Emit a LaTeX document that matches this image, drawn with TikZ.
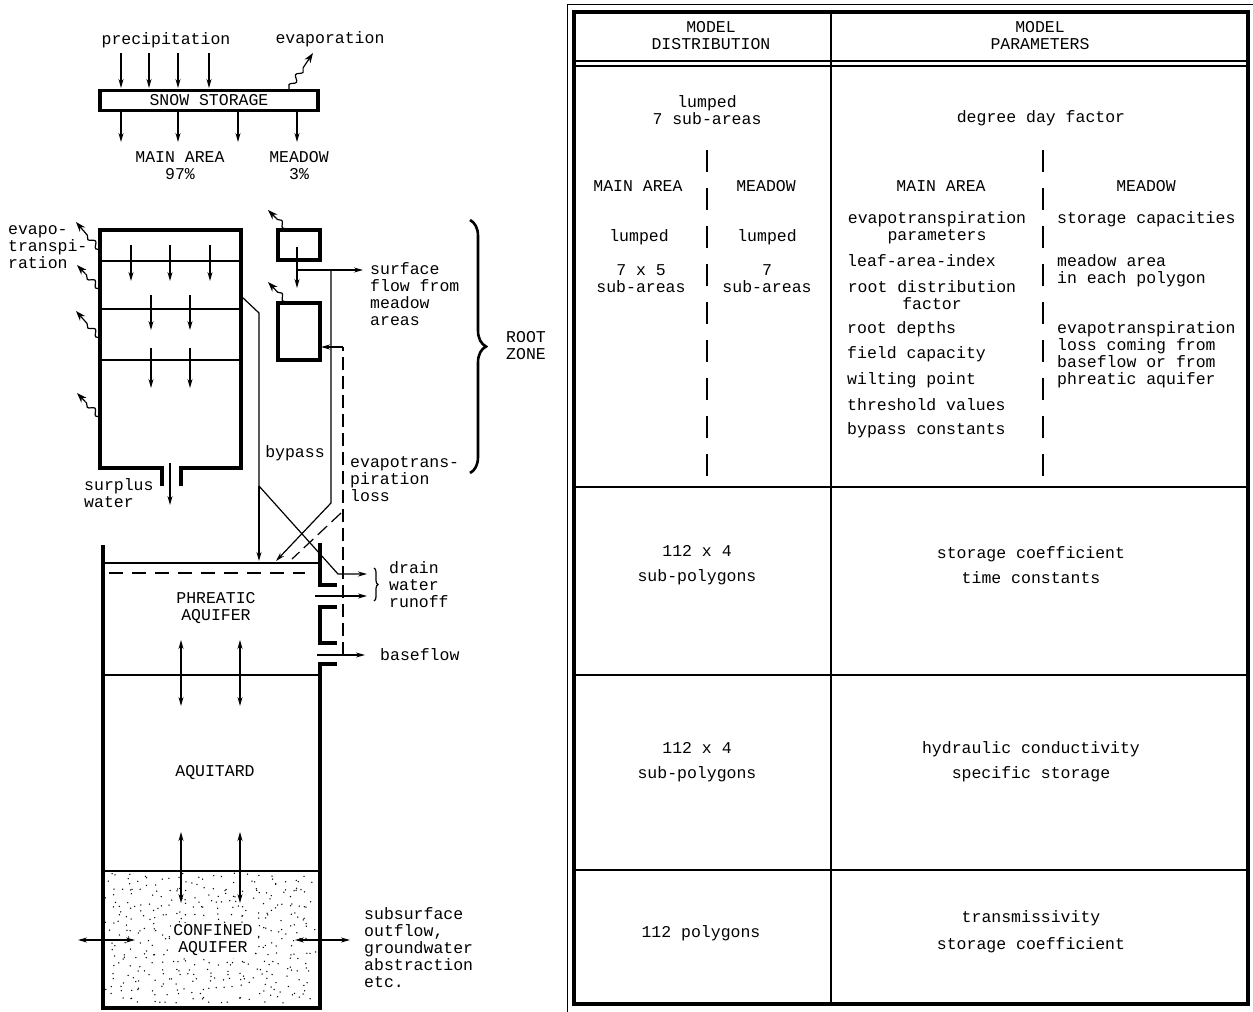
\documentclass[tikz,border=0pt]{standalone}
\usepackage{fontspec}
\setmonofont{Liberation Mono}
\usetikzlibrary{arrows.meta,calc,decorations.pathmorphing,decorations.pathreplacing}
\begin{document}
\begin{tikzpicture}[x=1pt, y=-1pt, >={Stealth[length=9pt,width=5pt]},
  every node/.style={font=\ttfamily\fontsize{16.5}{17}\selectfont, inner sep=0pt, align=center},
  flow/.style={->, line width=1.2pt},
  dflow/.style={<->, line width=1.2pt},
  wall/.style={line width=3.2pt},
  lyr/.style={line width=1.2pt},
  dline/.style={line width=1.2pt, dash pattern=on 13pt off 6pt},
  tdash/.style={line width=1.4pt, dash pattern=on 22pt off 16pt},
  wavy/.style={line width=1.2pt, decorate, decoration={snake, amplitude=2.5pt, segment length=12pt}},
  evaptip/.style={-{Stealth[length=10pt,width=7pt]}, line width=1.2pt}]
\useasboundingbox (0,0) rectangle (1253,1012);

% snow storage
\node[draw, wall, minimum width=218pt, minimum height=20pt] (snow) at (209,100.5) {SNOW STORAGE};
\node (prec) at (166,40) {precipitation};
\node (evapo) at (330,39) {evaporation};
\foreach \x in {121,149,178,209} \draw[flow] (\x,53) -- (\x,88);
\foreach \x in {121,178,238,297} \draw[flow] (\x,112) -- (\x,142);
\node (mainpct) at (180,166) {MAIN AREA\\97\%};
\node (meadpct) at (299,166) {MEADOW\\3\%};

% evaporation / evapotranspiration (wavy arrows)
\foreach \sx/\sy/\tx/\ty in {289/89/313/53, 100/250/76/222, 100/289/77/265, 100/338/76/311,
    100/417/77/393, 287/229/268/210, 287/302/268/282} {
  \coordinate (ws) at (\sx,\sy);
  \coordinate (wt) at (\tx,\ty);
  \coordinate (wm) at ($(wt)!12pt!(ws)$);
  \draw[wavy] (ws) -- (wm);
  \draw[evaptip] (wm) -- (wt);
}

% root zone, main area
\draw[wall] (162,486) -- (162,468) -- (100,468) -- (100,230) -- (241,230) -- (241,468) -- (181,468) -- (181,486);
\foreach \y in {261,309,360} \draw[lyr] (100,\y) -- (241,\y);
\foreach \x in {131,170,210} \draw[flow] (\x,245) -- (\x,281);
\foreach \x in {151,190} {
  \draw[flow] (\x,295) -- (\x,330);
  \draw[flow] (\x,348) -- (\x,388);
}
\draw[flow] (170,463) -- (170,505);
\node[anchor=west, align=left] (surplus) at (84,493.5) {surplus\\water};
\node[anchor=west, align=left] (etlab) at (8,247) {evapo-\\transpi-\\ration};

% root zone, meadow
\draw[wall] (278,230) rectangle (320,260);
\draw[wall] (278,303) rectangle (320,360);
\draw[flow] (297,247) -- (297,288);
\draw[flow] (297,270) -- (363,270);
\node[anchor=west, align=left] (surf) at (370,294.5) {surface\\flow from\\meadow\\areas};
\draw[flow] (331,270) -- (331,503) -- (276,561);
\draw[dline] (343,655) -- (343,347);
\draw[flow] (343,347) -- (321,347);
\draw[dline] (341,513) -- (292,559);
\node[anchor=west, align=left] (etloss) at (350,479) {evapotrans-\\piration\\loss};

% bypass
\draw[lyr] (241,296) -- (259,313) -- (259,486);
\draw[flow] (259,486) -- (259,561);
\draw[flow] (259,486) -- (338,574) -- (367,574);
\node (bypass) at (295,453) {bypass};

% brace root zone
\draw[line width=2.6pt, decorate, decoration={brace, amplitude=16pt}] (470,220) -- (470,473);
\node (root) at (526,345.5) {ROOT\\ZONE};

% groundwater column
\draw[wall] (103,545) -- (103,1008) -- (320,1008) -- (320,664) -- (337,664);
\draw[wall] (320,543) -- (320,585) -- (337,585);
\draw[wall] (337,607) -- (320,607) -- (320,643) -- (337,643);
\draw[lyr] (103,563) -- (320,563);
\draw[lyr, dash pattern=on 14pt off 9pt] (109,573) -- (305,573);
\draw[flow] (315,596) -- (367,596);
\draw[flow] (317,655) -- (365,655);
\draw[lyr, decorate, decoration={brace, amplitude=4pt}] (374,568) -- (374,601);
\node[anchor=west, align=left] (drain) at (389,585) {drain\\water\\runoff};
\node[anchor=west] (base) at (380,655) {baseflow};
\node (phr) at (216,608.5) {PHREATIC\\AQUIFER};
\draw[lyr] (103,675) -- (320,675);
\foreach \x in {181,240} \draw[dflow] (\x,640) -- (\x,706);
\node (aqt) at (215,773) {AQUITARD};

% confined aquifer, stipple
\pgfmathsetseed{17}
\foreach \gx in {110,118,...,314} {
  \foreach \gy in {878,886,...,1002} {
    \pgfmathsetmacro{\px}{\gx+6*rand}
    \pgfmathsetmacro{\py}{\gy+5*rand}
    \fill (\px,\py) circle (0.75pt);
  }
}
\draw[line width=2pt] (103,871) -- (320,871);
\foreach \x in {181,240} \draw[dflow] (\x,832) -- (\x,903);
\draw[dflow] (78,940) -- (135,940);
\draw[dflow] (295,940) -- (350,940);
\node[fill=white, inner sep=2pt] (conf) at (213,940.5) {CONFINED\\AQUIFER};
\node[anchor=west, align=left] (subs) at (364,948) {subsurface\\outflow,\\groundwater\\abstraction\\etc.};

% table
\draw[line width=1pt] (567,1012) -- (567,4) -- (1253,4);
\draw[line width=3.2pt] (574,12) rectangle (1248,1004);
\draw[line width=1.4pt] (831,12) -- (831,1004);
\draw[lyr] (574,61) -- (1248,61);
\draw[lyr] (574,66) -- (1248,66);
\draw[line width=2.2pt] (574,487) -- (1248,487);
\draw[line width=1.5pt] (574,675) -- (1248,675);
\draw[line width=1.5pt] (574,870) -- (1248,870);
\draw[tdash] (707,150) -- (707,487);
\draw[tdash] (1043,150) -- (1043,487);

\node (hdist) at (711,35.5) {MODEL\\DISTRIBUTION};
\node (hpar) at (1040,35.5) {MODEL\\PARAMETERS};

\node (snowd) at (707,110.5) {lumped\\7 sub-areas};
\node (snowp) at (1041,118) {degree day factor};
\node (dmain) at (638,186) {MAIN AREA};
\node (dmead) at (766,186) {MEADOW};
\node (dlm) at (639,237) {lumped};
\node (dlw) at (767,237) {lumped};
\node (dsm) at (641,278.5) {7 x 5\\sub-areas};
\node (dsw) at (767,278.5) {7\\sub-areas};
\node (pmain) at (941,186) {MAIN AREA};
\node (pmead) at (1146,186) {MEADOW};
\node (p1) at (937,228) {evapotranspiration\\parameters};
\node[anchor=west] (p2) at (847,261) {leaf-area-index};
\node (p3) at (932,295.5) {root distribution\\factor};
\node[anchor=west] (p4) at (847,329) {root depths};
\node[anchor=west] (p5) at (847,354) {field capacity};
\node[anchor=west] (p6) at (847,380) {wilting point};
\node[anchor=west] (p7) at (847,405) {threshold values};
\node[anchor=west] (p8) at (847,430) {bypass constants};
\node[anchor=west] (q1) at (1057,219) {storage capacities};
\node[anchor=west, align=left] (q2) at (1057,270.5) {meadow area\\in each polygon};
\node[anchor=west, align=left] (q3) at (1057,354.5) {evapotranspiration\\loss coming from\\baseflow or from\\phreatic aquifer};

\node (r2d) at (697,565.5) {112 x 4\\[8pt]sub-polygons};
\node (r2p) at (1031,565.5) {storage coefficient\\[8pt]time constants};
\node (r3d) at (697,762.5) {112 x 4\\[8pt]sub-polygons};
\node (r3p) at (1031,761.5) {hydraulic conductivity\\[8pt]specific storage};
\node (r4d) at (701,933) {112 polygons};
\node (r4p) at (1031,931.5) {transmissivity\\[10pt]storage coefficient};
\end{tikzpicture}
\end{document}
